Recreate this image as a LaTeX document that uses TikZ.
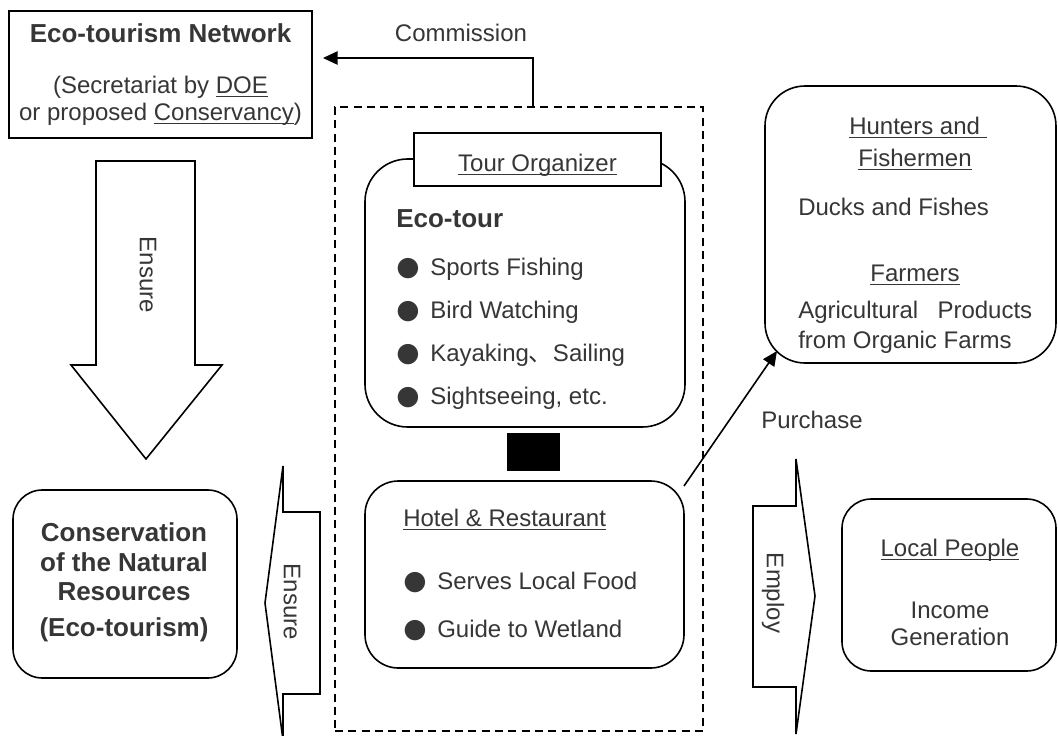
\documentclass[tikz,border=0pt]{standalone}
\usepackage{fontspec}
\setmainfont{Liberation Sans}
\newfontfamily\cjk{Noto Sans CJK SC}
\newfontfamily\dejavu{DejaVu Sans}
\usetikzlibrary{arrows.meta}
\definecolor{txt}{HTML}{363636}
\newcommand\bul{\makebox[25.5pt][l]{\dejavu\fontsize{20pt}{20pt}\selectfont ●}}
\newsavebox\myulbox
\newcommand\myul[1]{\sbox\myulbox{#1}\rlap{\rule[-3pt]{\wd\myulbox}{1.1pt}}\usebox\myulbox}
\begin{document}
\begin{tikzpicture}[x=0.75pt,y=-0.75pt,
  box/.style={draw=black, line width=1.2pt, inner sep=0pt, outer sep=0pt},
  dbox/.style={draw=black, line width=1.1pt, dash pattern=on 6pt off 4pt, inner sep=0pt},
  t/.style={text=txt, inner sep=0pt, font=\fontsize{18pt}{21pt}\selectfont},
  tb/.style={text=txt, inner sep=0pt, font=\fontsize{19.5pt}{23pt}\selectfont\bfseries},
  fat/.style={draw=black, line width=1.2pt, fill=white, line join=miter},
  arr/.style={draw=black, line width=1.2pt, -{Triangle[length=11pt,width=10pt]}},
]
\useasboundingbox (0,0) rectangle (1058,736);
\fill[white] (0,0) rectangle (1058,736);

% containers and boxes
\node[dbox, minimum width=276pt, minimum height=468pt] (dash) at (519,419) {};
\node[box, minimum width=227.25pt, minimum height=95.25pt] (net) at (160.5,74.5) {};
\node[box, rounded corners=22pt, minimum width=168pt, minimum height=141pt] (cons) at (125,584) {};
\node[box, rounded corners=32pt, minimum width=240pt, minimum height=201pt] (tour) at (525,293) {};
\node[box, fill=white, minimum width=185.25pt, minimum height=39.75pt] (hdr) at (537.5,159.5) {};
\node[fill=black, inner sep=0pt, minimum width=39.75pt, minimum height=28.5pt] (sq) at (533.5,452) {};
\node[box, rounded corners=25pt, minimum width=239.25pt, minimum height=140.25pt] (hotel) at (524.5,574.5) {};
\node[box, rounded corners=30pt, minimum width=218.25pt, minimum height=207.75pt] (hunt) at (910.5,224.5) {};
\node[box, rounded corners=22pt, minimum width=160.5pt, minimum height=129pt] (local) at (949,585) {};

% block arrows
\draw[fat] (96,161) -- (195,161) -- (195,365) -- (222,365) -- (146,459) -- (71,365) -- (96,365) -- cycle;
\draw[fat] (320,512) -- (283,512) -- (283,466) -- (265,603) -- (283,740) -- (283,694) -- (320,694) -- cycle;
\draw[fat] (753,506) -- (796,506) -- (796,459) -- (815,596) -- (796,734) -- (796,687) -- (753,687) -- cycle;
\node[t, rotate=-90] (ens1) at (148,275) {Ensure};
\node[t, rotate=-90] (ens2) at (292,602) {Ensure};
\node[t, rotate=-90] (emp) at (773,593) {Employ};

% network box text
\node[tb, anchor=base] (nt1) at (160.5,42) {Eco-tourism Network};
\node[t, anchor=base] (nt2) at (160.5,93) {(Secretariat by \myul{DOE}};
\node[t, anchor=base] (nt3) at (160.5,120) {or proposed \myul{Conservancy})};

% commission
\node[t, anchor=base] (com) at (461,41) {Commission};
\coordinate (cm) at (533,107);
\coordinate (ct) at (323,58);
\draw[arr] (cm) -- (cm |- ct) -- (ct);

% conservation
\node[tb, anchor=base] (c1) at (124,541) {Conservation};
\node[tb, anchor=base] (c2) at (124,571) {of the Natural};
\node[tb, anchor=base] (c3) at (124,600) {Resources};
\node[tb, anchor=base] (c4) at (124,636) {(Eco-tourism)};

% tour organizer
\node[t, anchor=base] (ht) at (537.5,171) {\myul{Tour Organizer}};
\node[tb, anchor=base west] (eco) at (396,227) {Eco-tour};
\node[t, anchor=base west] (i1) at (396,275) {\bul Sports Fishing};
\node[t, anchor=base west] (i2) at (396,318) {\bul Bird Watching};
\node[t, anchor=base west] (i3) at (396,361) {\bul Kayaking{\cjk 、}Sailing};
\node[t, anchor=base west] (i4) at (396,404) {\bul Sightseeing, etc.};

% hotel
\node[t, anchor=base west] (hh) at (403,526) {\myul{Hotel \& Restaurant}};
\node[t, anchor=base west] (h1) at (403,589) {\bul Serves Local Food};
\node[t, anchor=base west] (h2) at (403,637) {\bul Guide to Wetland};

% hunters
\node[t, anchor=base] (u1) at (918,134) {\myul{Hunters and\ }};
\node[t, anchor=base] (u2) at (915,166) {\myul{Fishermen}};
\node[t, anchor=base west] (u3) at (798,215) {Ducks and Fishes};
\node[t, anchor=base] (u4) at (915,281) {\myul{Farmers}};
\node[t, anchor=base west] (u5) at (798,318) {\makebox[175.5pt][s]{Agricultural\hfill Products}};
\node[t, anchor=base west] (u6) at (798,348) {from Organic Farms};

% purchase
\node[t, anchor=base] (pur) at (812,428) {Purchase};
\coordinate (pa) at (684,486);
\coordinate (pb) at (777,351);
\draw[arr] (pa) -- (pb);

% local people
\node[t, anchor=base] (l1) at (950,556) {\myul{Local People}};
\node[t, anchor=base] (l2) at (950,618) {Income};
\node[t, anchor=base] (l3) at (950,645) {Generation};
\end{tikzpicture}
\end{document}
